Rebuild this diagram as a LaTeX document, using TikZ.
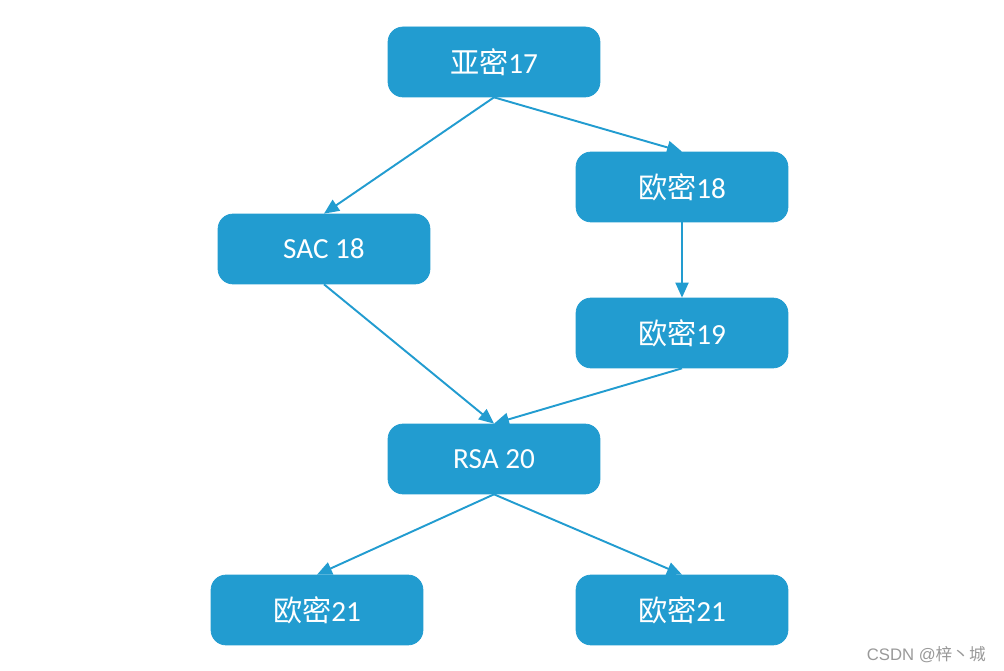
\documentclass[tikz,border=0pt]{standalone}
\usepackage{fontspec}
\setmainfont{Carlito}
\newfontfamily\cjk{Noto Sans CJK SC}
\newfontfamily\wmfont{Liberation Sans}
\usetikzlibrary{arrows.meta}

\definecolor{boxblue}{RGB}{34,156,208}
\tikzstyle{blk} = [draw=boxblue, fill=boxblue, rectangle, rounded corners=0.3cm,
                   minimum width=4.24cm, minimum height=1.4cm,
                   text=white, font=\fontsize{16.6}{18}\selectfont]
\tikzstyle{lnk} = [draw=boxblue, line width=1.1pt]

\begin{document}
\begin{tikzpicture}[x=0.02cm,y=-0.02cm,
                    >={Triangle[length=0.3cm,width=0.26cm]}]

\useasboundingbox (0,0) rectangle (1004,671);

\node[blk] at (494,62)  (ym17) {{\cjk 亚密}17};
\node[blk] at (682,187) (om18) {{\cjk 欧密}18};
\node[blk] at (324,249) (sac18) {SAC 18};
\node[blk] at (682,333) (om19) {{\cjk 欧密}19};
\node[blk] at (494,459) (rsa20) {RSA 20};
\node[blk] at (317,610) (om21a) {{\cjk 欧密}21};
\node[blk] at (682,610) (om21b) {{\cjk 欧密}21};

\draw[lnk,->] (ym17.south) -- (sac18.north);
\draw[lnk,->] (ym17.south) -- (om18.north);
\draw[lnk,->] (om18.south) -- (om19.north);
\draw[lnk,->] (sac18.south) -- (rsa20.north);
\draw[lnk,->] (om19.south) -- (rsa20.north);
\draw[lnk,->] (rsa20.south) -- (om21a.north);
\draw[lnk,->] (rsa20.south) -- (om21b.north);

% watermark
\node[gray!80,anchor=east,font=\fontsize{9.5}{10}\selectfont]
     at (992,655) (wm) {\wmfont CSDN @{\cjk 梓丶城}};

\end{tikzpicture}
\end{document}
